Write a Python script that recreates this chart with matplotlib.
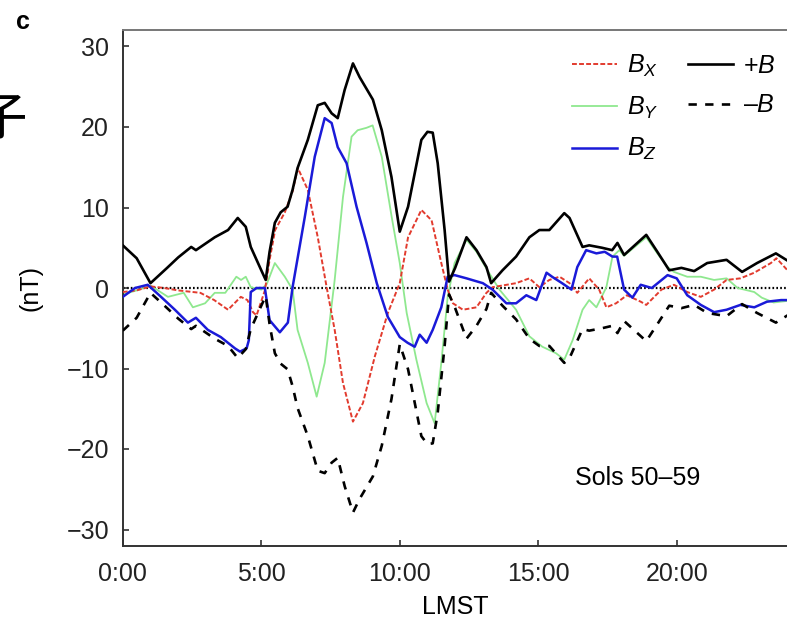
import matplotlib
matplotlib.use("Agg")
import matplotlib.pyplot as plt

plt.rcParams['font.family'] = ['Liberation Sans', 'DejaVu Sans']
plt.rcParams['mathtext.fontset'] = 'custom'
plt.rcParams['mathtext.rm'] = 'Liberation Sans'
plt.rcParams['mathtext.it'] = 'Liberation Sans:italic'
plt.rcParams['lines.scale_dashes'] = False

# ---------------- data ----------------
t_mag = [0, 0.5, 1.0, 1.6, 2.0, 2.47, 2.64, 3.32, 3.8, 4.15, 4.44, 4.62, 5.0, 5.16, 5.3, 5.49,
         5.7, 5.95, 6.13, 6.31, 6.68, 7.04, 7.29, 7.54, 7.76, 8.01, 8.31, 8.55, 9.03, 9.35, 9.7,
         10.0, 10.3, 10.78, 11.0, 11.19, 11.37, 11.62, 11.78, 12.0, 12.41, 12.77, 13.13, 13.3,
         13.71, 14.2, 14.68, 15.04, 15.4, 15.94, 16.13, 16.6, 16.84, 17.3, 17.67, 17.86, 18.1,
         18.9, 19.3, 19.73, 20.17, 20.63, 21.1, 21.8, 22.36, 22.9, 23.58, 24.0]
B_mag = [5.3, 3.7, 0.6, 2.5, 3.8, 5.1, 4.7, 6.3, 7.2, 8.7, 7.6, 5.1, 2.2, 1.0, 4.5, 8.1,
         9.4, 10.1, 12.2, 14.9, 18.4, 22.7, 23.0, 21.7, 21.1, 24.6, 27.9, 26.2, 23.4, 19.6, 13.8,
         7.0, 10.1, 18.4, 19.4, 19.3, 15.5, 7.2, 0.8, 2.5, 6.3, 4.7, 2.6, 0.6,
         2.2, 3.9, 6.3, 7.2, 7.2, 9.3, 8.7, 5.1, 5.3, 5.0, 4.7, 5.6, 4.1,
         6.6, 4.5, 2.2, 2.5, 2.1, 3.1, 3.5, 2.0, 3.1, 4.3, 3.4]

t_x = [0, 0.5, 1.0, 1.5, 2.0, 2.8, 3.3, 3.8, 4.26, 4.5, 4.7, 4.83, 5.13, 5.3, 5.5, 5.85, 6.13,
       6.32, 6.68, 7.04, 7.36, 7.65, 7.95, 8.31, 8.67, 9.1, 9.57, 10.0, 10.3, 10.78, 11.15, 11.5,
       11.73, 11.92, 12.28, 12.77, 13.13, 13.35, 14.2, 14.68, 15.04, 15.4, 15.77, 16.13, 16.41,
       16.84, 17.2, 17.46, 17.81, 18.2, 18.7, 18.9, 19.45, 19.9, 20.38, 20.87, 21.35, 21.8, 22.3,
       22.8, 23.4, 23.6, 24.0]
B_x = [-0.5, -0.3, 0.2, 0.0, -0.3, -0.6, -1.5, -2.7, -1.1, -1.5, -3.0, -3.4, -0.3, 3.5, 7.2, 9.4,
       12.0, 14.9, 12.2, 6.3, 0.1, -5.2, -11.8, -16.6, -14.3, -8.5, -3.1, 0.6, 6.3, 9.7, 8.4, 3.1,
       -0.2, -1.9, -2.7, -2.4, -0.6, 0.1, 0.6, 1.2, 0.1, 1.0, 1.4, 0.6, -0.6,
       1.2, -0.2, -2.4, -1.9, -0.9, -1.7, -2.1, -0.2, 0.4, -0.5, -1.1, -0.2, 1.0, 1.2,
       1.9, 3.1, 3.7, 2.2]

t_y = [0, 0.5, 1.0, 1.63, 2.2, 2.53, 2.97, 3.32, 3.7, 4.1, 4.27, 4.44, 4.62, 5.0, 5.2, 5.49, 5.85,
       6.13, 6.31, 6.68, 7.0, 7.29, 7.65, 7.95, 8.26, 8.48, 8.8, 9.02, 9.35, 9.71, 10.0, 10.25,
       10.6, 10.97, 11.26, 11.5, 11.73, 11.98, 12.41, 12.77, 13.13, 13.6, 14.2, 14.68, 15.15,
       15.64, 15.94, 16.24, 16.6, 16.84, 17.1, 17.46, 17.68, 17.93, 18.1, 18.9, 19.3, 19.67,
       19.9, 20.38, 20.87, 21.35, 21.8, 22.2, 22.8, 23.07, 23.5, 24.0]
B_y = [-0.8, -0.3, 0.3, -1.1, -0.6, -2.4, -1.9, -0.6, -0.6, 1.4, 1.0, 1.4, 0.1, -0.2, 0.5, 3.1, 1.4,
       -0.2, -5.2, -9.3, -13.5, -9.3, 1.0, 11.3, 18.8, 19.6, 19.9, 20.2, 16.3, 8.8, 3.1, -3.1,
       -8.9, -14.3, -16.8, -9.3, -1.1, 3.1, 6.0, 4.5, 2.4, -0.2, -2.7, -6.0, -7.3,
       -8.1, -8.9, -6.5, -2.7, -1.5, -2.4, 0.1, 3.9, 4.7, 4.0, 6.3, 4.3, 2.6,
       2.0, 1.4, 1.4, 1.0, 1.2, 0.0, -0.5, -1.2, -1.8, -1.6]

t_z = [0, 0.44, 0.9, 1.38, 1.88, 2.35, 2.64, 3.07, 3.54, 4.05, 4.23, 4.47, 4.55, 4.62, 4.83, 5.13,
       5.3, 5.67, 5.96, 6.13, 6.57, 6.93, 7.29, 7.54, 7.76, 8.08, 8.44, 8.8, 9.17, 9.57, 10.0,
       10.28, 10.54, 10.72, 10.97, 11.19, 11.5, 11.73, 11.98, 12.41, 13.0, 13.35, 13.85, 14.2,
       14.57, 14.93, 15.3, 15.5, 15.86, 16.2, 16.41, 16.73, 17.1, 17.4, 17.68, 17.85, 18.1, 18.4,
       18.7, 19.1, 19.67, 20.0, 20.38, 20.87, 21.35, 21.8, 22.3, 22.8, 23.26, 23.77, 24.0]
B_z = [-1.1, 0.0, 0.4, -1.1, -2.7, -4.3, -3.7, -5.2, -6.1, -7.5, -7.9, -7.5, -6.5, -0.5, 0.0, 0.0,
       -4.0, -5.5, -4.3, 0.1, 8.8, 16.3, 21.1, 20.5, 17.5, 15.5, 10.1, 5.6, 0.6, -3.6, -6.1,
       -6.8, -7.3, -5.8, -6.8, -5.2, -2.4, 1.4, 1.6, 1.2, 0.6, -0.2, -1.9, -1.9,
       -0.9, -1.5, 1.9, 1.4, 0.6, -0.2, 2.6, 4.7, 4.3, 4.5, 3.9, 3.9, -0.2, -1.2,
       0.4, 0.0, 1.6, 1.2, -0.9, -2.1, -3.0, -2.7, -2.1, -2.4, -1.7, -1.5, -1.5]

x_ticks = [0, 5, 10, 15, 20]
x_ticklabels = ['0:00', '5:00', '10:00', '15:00', '20:00']
y_ticks = [-30, -20, -10, 0, 10, 20, 30]
y_ticklabels = ['\u221230', '\u221220', '\u221210', '0', '10', '20', '30']
labels = ['$B_X$', '$B_Y$', '$B_Z$', '$+B$', '$\u2013B$']

# ---------------- figure ----------------
W, H = 787, 621
fig = plt.figure(figsize=(W / 100, H / 100), dpi=100)
ax = fig.add_axes([122.8 / W, (H - 545.6) / H, (787.5 - 122.8) / W, (545.6 - 30.4) / H])

FS = 18

ax.axhline(0, color='black', lw=1.6, ls=(0, (1.2, 1.6)), zorder=1)

l_y, = ax.plot(t_y, B_y, color='#8fe88f', lw=1.3, zorder=2)
l_x, = ax.plot(t_x, B_x, color='#e23b2e', lw=1.4, dashes=(3.5, 1.6), zorder=3)
l_z, = ax.plot(t_z, B_z, color='#1a1ad8', lw=1.8, zorder=4)
l_p, = ax.plot(t_mag, B_mag, color='black', lw=1.9, zorder=5)
l_m, = ax.plot(t_mag, [-v for v in B_mag], color='black', lw=1.9, dashes=(6, 6), zorder=5)

ax.set_xlim(0, 24)
ax.set_ylim(-32, 32)
ax.set_xticks(x_ticks)
ax.set_xticklabels(x_ticklabels)
ax.set_yticks(y_ticks)
ax.set_yticklabels(y_ticklabels)
ax.tick_params(direction='in', length=4, width=1.1, labelsize=FS, colors='#222222')
ax.tick_params(axis='x', pad=12)
ax.tick_params(axis='y', pad=10)
for s in ax.spines.values():
    s.set_color('#333333')
    s.set_linewidth(1.4)
ax.spines['top'].set_color('#777777')

ax.set_xlabel('LMST', fontsize=FS, labelpad=6)
fig.text(30 / W, 1 - 288 / H, '(nT)', rotation=90, fontsize=FS, ha='center', va='center')

ax.text(18.6, -23.6, 'Sols 50\u201359', fontsize=FS, ha='center', va='center')

fig.text(23 / W, 1 - 22 / H, 'c', fontsize=FS, fontweight='bold', ha='center', va='center')
fig.text(1 / W, 1 - 120 / H, '子', fontsize=37, ha='center', va='center',
         family=['Noto Sans CJK SC', 'DejaVu Sans'])

handles = [l_x, l_y, l_z, l_p, l_m]
leg = ax.legend(handles, labels, ncol=2, loc='upper right', frameon=False, fontsize=FS,
                handlelength=1.8, handletextpad=0.4, columnspacing=1.18, labelspacing=0.62,
                borderaxespad=0.5, bbox_to_anchor=(1.016, 1.0))

fig.savefig('out.png', dpi=100)
